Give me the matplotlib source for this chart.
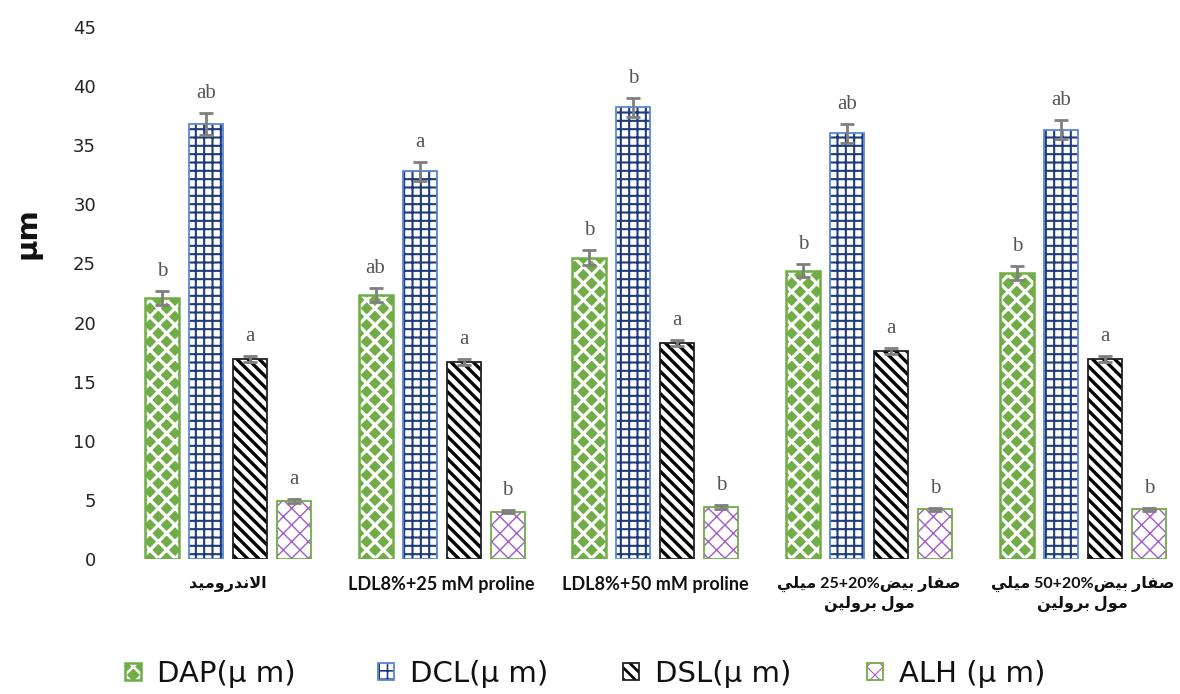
import matplotlib
matplotlib.use("Agg")
import matplotlib.pyplot as plt
import numpy as np
from matplotlib.patches import Patch
from matplotlib.legend_handler import HandlerTuple

# ---------------- data ----------------
categories = [
    "الاندروميد",
    "LDL8%+25 mM proline",
    "LDL8%+50 mM proline",
    "صفار بيض20%+25 ميلي\nمول برولين",
    "صفار بيض20%+50 ميلي\nمول برولين",
]
series_names = ["DAP(µ m)", "DCL(µ m)", "DSL(µ m)", "ALH (µ m)"]
dap = [22.1, 22.3, 25.5, 24.4, 24.2]
dcl = [36.8, 32.8, 38.2, 36.0, 36.3]
dsl = [16.9, 16.7, 18.3, 17.6, 16.9]
alh = [4.9, 4.0, 4.4, 4.2, 4.2]
dap_err = [0.6, 0.6, 0.6, 0.55, 0.6]
dcl_err = [0.9, 0.8, 0.8, 0.8, 0.8]
dsl_err = [0.25, 0.25, 0.25, 0.25, 0.25]
alh_err = [0.15, 0.15, 0.15, 0.15, 0.15]
dap_letters = ["b", "ab", "b", "b", "b"]
dcl_letters = ["ab", "a", "b", "ab", "ab"]
dsl_letters = ["a", "a", "a", "a", "a"]
alh_letters = ["a", "b", "b", "b", "b"]
yticks = [0, 5, 10, 15, 20, 25, 30, 35, 40, 45]
ylabel = "µm"

# ---------------- simple Arabic shaping ----------------
FORMS = {
    'ا': ('\uFE8D', '\uFE8E', None, None),
    'ب': ('\uFE8F', '\uFE90', '\uFE91', '\uFE92'),
    'د': ('\uFEA9', '\uFEAA', None, None),
    'ر': ('\uFEAD', '\uFEAE', None, None),
    'ص': ('\uFEB9', '\uFEBA', '\uFEBB', '\uFEBC'),
    'ض': ('\uFEBD', '\uFEBE', '\uFEBF', '\uFEC0'),
    'ف': ('\uFED1', '\uFED2', '\uFED3', '\uFED4'),
    'ل': ('\uFEDD', '\uFEDE', '\uFEDF', '\uFEE0'),
    'م': ('\uFEE1', '\uFEE2', '\uFEE3', '\uFEE4'),
    'ن': ('\uFEE5', '\uFEE6', '\uFEE7', '\uFEE8'),
    'و': ('\uFEED', '\uFEEE', None, None),
    'ي': ('\uFEF1', '\uFEF2', '\uFEF3', '\uFEF4'),
    '\uFEFB': ('\uFEFB', '\uFEFC', None, None),
}


def is_arabic(s):
    return any(c in FORMS for c in s)


def shape_line(s):
    if not is_arabic(s):
        return s
    s = s.replace('لا', '\uFEFB')
    out = []
    for i, ch in enumerate(s):
        if ch not in FORMS:
            out.append(ch)
            continue
        prev = s[i - 1] if i > 0 else ''
        nxt = s[i + 1] if i + 1 < len(s) else ''
        jp = prev in FORMS and FORMS[prev][2] is not None
        dual = FORMS[ch][2] is not None
        jn = dual and nxt in FORMS
        iso, fin, ini, med = FORMS[ch]
        if jp and jn:
            out.append(med)
        elif jp:
            out.append(fin)
        elif jn:
            out.append(ini)
        else:
            out.append(iso)
    shaped = ''.join(out)
    # visual reorder for an RTL paragraph ('+' and spaces are neutral -> RTL)
    runs = []
    for ch in shaped:
        ltr = ch.isascii() and ch not in ' +'
        if runs and runs[-1][0] == ltr:
            runs[-1][1] += ch
        else:
            runs.append([ltr, ch])
    vis = []
    for ltr, txt in reversed(runs):
        vis.append(txt if ltr else txt[::-1])
    return ''.join(vis)


def shape(s):
    return '\n'.join(shape_line(l) for l in s.split('\n'))


# ---------------- figure ----------------
W, H = 1180, 694
fig = plt.figure(figsize=(W / 100, H / 100), dpi=100)
ax = fig.add_axes([121 / W, (H - 559) / H, (1179 - 121) / W, 532 / H])
ax.set_xlim(-0.5, 4.45)
ax.set_ylim(0, 45)

x = np.arange(len(categories))
width = 0.159
pitch = 0.206
offsets = [-1.5 * pitch, -0.5 * pitch, 0.5 * pitch, 1.5 * pitch]

styles = [
    # face, hatch, hatch colour, hatch lw, outline colour, outline lw
    dict(face="#70AD47", hatch="xx", hcol="white", hlw=2.3, edge="#70AD47", elw=1.8),
    dict(face="white", hatch="++", hcol="#1F3C7A", hlw=1.5, edge="#5B87D6", elw=1.3),
    dict(face="white", hatch="\\\\\\", hcol="black", hlw=2.4, edge="#222222", elw=1.3),
    dict(face="white", hatch="xx", hcol="#A05CC8", hlw=1.0, edge="#70AD47", elw=1.3),
]
values = [dap, dcl, dsl, alh]
errs = [dap_err, dcl_err, dsl_err, alh_err]
letters = [dap_letters, dcl_letters, dsl_letters, alh_letters]


def set_hlw(p, lw):
    try:
        p.set_hatch_linewidth(lw)
    except AttributeError:
        pass


legend_handles = []
for k in range(4):
    st = styles[k]
    pos = x + offsets[k]
    with plt.rc_context({"hatch.linewidth": st["hlw"]}):
        fill = ax.bar(pos, values[k], width, color=st["face"], edgecolor=st["hcol"],
                      hatch=st["hatch"], linewidth=0, zorder=2)
        for p in fill:
            set_hlw(p, st["hlw"])
        ax.bar(pos, values[k], width, fill=False, edgecolor=st["edge"],
               linewidth=st["elw"], zorder=3)
    ax.errorbar(pos, values[k], yerr=errs[k], fmt="none", ecolor="#7F7F7F",
                elinewidth=2.0, capsize=5, capthick=2.0, zorder=4)
    for xi, v, e, t in zip(pos, values[k], errs[k], letters[k]):
        ax.text(xi, v + e + 0.85, t, ha="center", va="bottom",
                fontsize=15, family="Liberation Serif", color="#555555")
    h1 = Patch(facecolor=st["face"], edgecolor=st["hcol"], hatch=st["hatch"], linewidth=0)
    h2 = Patch(fill=False, edgecolor=st["edge"], linewidth=st["elw"])
    legend_handles.append((h1, h2))

for s in ax.spines.values():
    s.set_visible(False)
ax.set_yticks(yticks)
ax.set_yticklabels([str(t) for t in yticks], fontsize=13, family="DejaVu Sans", color="#222222")
ax.tick_params(axis="y", length=0, pad=18)
ax.set_xticks(x)
ax.set_xticklabels([shape(c) for c in categories], fontweight="bold",
                   family=["Lato", "DejaVu Sans"], color="#111111")
for lab, c in zip(ax.get_xticklabels(), categories):
    lab.set_fontsize(11.5 if is_arabic(c) else 13)
    lab.set_linespacing(1.35)
ax.tick_params(axis="x", length=0, pad=12)

fig.text(27 / W, 1 - 233 / H, ylabel, rotation=90, ha="center", va="center",
         fontsize=21, fontweight="bold", family="DejaVu Sans", color="#111111")

# legend: one entry per legend box, placed along the bottom
leg_x = [125, 378, 623, 867]
for k in range(4):
    st = styles[k]
    leg = fig.legend([legend_handles[k]], [series_names[k]],
                     handler_map={tuple: HandlerTuple(ndivide=1)},
                     loc="center left", bbox_to_anchor=(leg_x[k] / W, 1 - 674 / H),
                     frameon=False, prop={"family": "DejaVu Sans", "size": 21},
                     handlelength=0.55, handleheight=0.55, handletextpad=0.55,
                     borderpad=0, borderaxespad=0)
    for t in leg.get_texts():
        t.set_color("#111111")
    for p in leg.findobj(Patch):
        if p.get_hatch():
            set_hlw(p, st["hlw"] * 0.8)

fig.savefig("out.png", dpi=100)
